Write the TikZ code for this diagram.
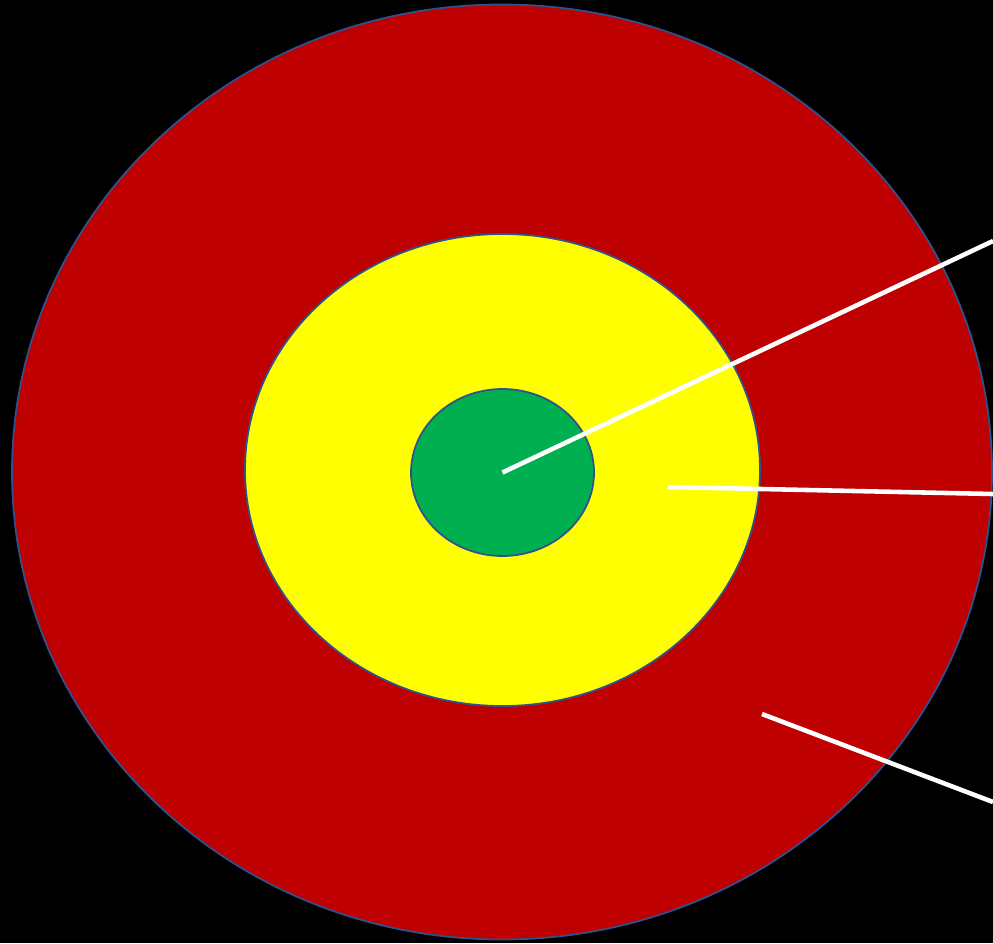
\documentclass[tikz,border=0pt]{standalone}
\usepackage{tikz}
\usetikzlibrary{positioning,shapes.geometric}
\usepackage{xcolor}
\definecolor{ringred}{HTML}{BE0000}
\definecolor{ringyellow}{HTML}{FFFF00}
\definecolor{ringgreen}{HTML}{00B050}
\definecolor{ringedge}{HTML}{2F528F}

\begin{document}
\begin{tikzpicture}[
    ring/.style={ellipse, draw=ringedge, line width=0.5pt, fill=#1, inner sep=0pt},
    pointer/.style={draw=white, line width=1.3pt},
]
% background and page size
\fill[black] (0,0) rectangle (9.93,9.43);
\useasboundingbox (0,0) rectangle (9.93,9.43);

\node[ring=ringred, minimum width=9.80cm, minimum height=9.35cm] (outer) at (5.02,4.71) {};
\node[ring=ringyellow, minimum width=5.15cm, minimum height=4.72cm] (middle) at (5.025,4.73) {};
\node[ring=ringgreen, minimum width=1.83cm, minimum height=1.67cm] (inner) at (5.025,4.705) {};

\coordinate (tipa) at (9.93,7.02);
\coordinate (startb) at (6.68,4.56);
\coordinate (tipb) at (9.93,4.49);
\coordinate (startc) at (7.62,2.29);
\coordinate (tipc) at (9.93,1.41);

\draw[pointer] (inner.center) -- (tipa);
\draw[pointer] (startb) -- (tipb);
\draw[pointer] (startc) -- (tipc);
\end{tikzpicture}
\end{document}
